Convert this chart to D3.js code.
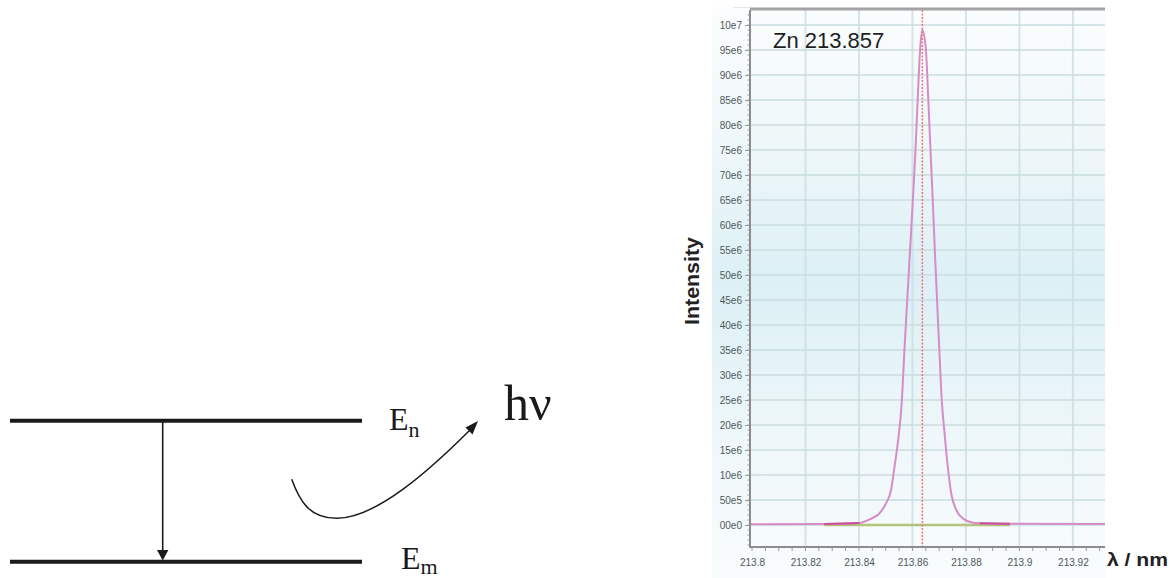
<!DOCTYPE html>
<html>
<head>
<meta charset="utf-8">
<script src="https://cdn.jsdelivr.net/npm/d3@7"></script>
<style>
  html, body { margin: 0; padding: 0; background: #ffffff; }
  svg { display: block; }
</style>
</head>
<body>
<svg id="chart" width="1175" height="578"></svg>
<script>
// ---------------- data ----------------
const wavelengths = [213.7993, 213.8000, 213.8270, 213.8345, 213.8401, 213.8439, 213.8476, 213.8501,
  213.8520, 213.8533, 213.8545, 213.85606, 213.8570, 213.85805, 213.8591, 213.86015,
  213.86113, 213.86195, 213.86285, 213.8637, 213.86503, 213.86593, 213.86675, 213.86758, 213.86836,
  213.86919, 213.87005, 213.87095, 213.8720, 213.8732, 213.8745, 213.8764, 213.8789, 213.8826,
  213.8851, 213.8964, 213.9320];
const intensities = [0.15e6, 0.15e6, 0.2e6, 0.3e6, 0.4e6, 1.1e6, 2.3e6, 4.3e6,
  7.0e6, 11.7e6, 16.3e6, 25e6, 35e6, 45e6, 55e6, 65e6,
  75e6, 85e6, 95e6, 99e6, 95e6, 85e6, 75e6, 65e6, 55e6,
  45e6, 35e6, 25e6, 18.4e6, 11.7e6, 6.3e6, 3.0e6, 1.3e6, 0.46e6,
  0.34e6, 0.24e6, 0.2e6];
const baselineFit = [[213.8270, 0], [213.8964, 0]];
const bgRegions = [[213.8270, 213.8401], [213.8851, 213.8964]];
const peakCenter = 213.8637;
const title = "Zn 213.857";
const xTickValues = [213.80, 213.82, 213.84, 213.86, 213.88, 213.90, 213.92];
const xTickLabels = ["213.8", "213.82", "213.84", "213.86", "213.88", "213.9", "213.92"];
const yTickValues = [1e8, 95e6, 90e6, 85e6, 80e6, 75e6, 70e6, 65e6, 60e6, 55e6, 50e6, 45e6, 40e6,
  35e6, 30e6, 25e6, 20e6, 15e6, 10e6, 5e6, 0];
const yTickLabels = ["10e7", "95e6", "90e6", "85e6", "80e6", "75e6", "70e6", "65e6", "60e6", "55e6",
  "50e6", "45e6", "40e6", "35e6", "30e6", "25e6", "20e6", "15e6", "10e6", "50e5", "00e0"];
const xLabel = "λ / nm";
const yLabel = "Intensity";

// ---------------- layout ----------------
const svg = d3.select("#chart");
const P = { left: 750, right: 1105, top: 10, bottom: 547 };
const x = d3.scaleLinear().domain([213.79925, 213.932]).range([P.left, P.right]);
const y = d3.scaleLinear().domain([-4.4e6, 1.03e8]).range([P.bottom, P.top]);

const defs = svg.append("defs");
const grad = defs.append("linearGradient").attr("id", "bg").attr("x1", 0).attr("y1", 0).attr("x2", 0).attr("y2", 1);
grad.append("stop").attr("offset", "0%").attr("stop-color", "#fbfdfe");
grad.append("stop").attr("offset", "25%").attr("stop-color", "#eef7f9");
grad.append("stop").attr("offset", "48%").attr("stop-color", "#dcf0f5");
grad.append("stop").attr("offset", "75%").attr("stop-color", "#eef7f9");
grad.append("stop").attr("offset", "100%").attr("stop-color", "#f9fcfd");
defs.append("clipPath").attr("id", "plotclip").append("rect")
  .attr("x", P.left).attr("y", P.top).attr("width", P.right - P.left).attr("height", P.bottom - P.top);

// panel background
svg.append("rect").attr("x", 712).attr("y", 7).attr("width", P.right - 712).attr("height", 571)
  .attr("fill", "url(#bg)");
svg.append("line").attr("x1", 733).attr("x2", P.left).attr("y1", 7.5).attr("y2", 7.5)
  .attr("stroke", "#e4e8ea").attr("stroke-width", 1);

// grid
const grid = svg.append("g");
grid.selectAll(".hg").data(yTickValues).join("line")
  .attr("x1", P.left).attr("x2", P.right)
  .attr("y1", d => y(d)).attr("y2", d => y(d))
  .attr("stroke", "#c9dcdf").attr("stroke-opacity", 0.75).attr("stroke-width", 2);
grid.selectAll(".vg").data(xTickValues.slice(1)).join("line")
  .attr("x1", d => x(d)).attr("x2", d => x(d))
  .attr("y1", P.top).attr("y2", P.bottom)
  .attr("stroke", "#c9dcdf").attr("stroke-opacity", 0.75).attr("stroke-width", 2);

// series
const plot = svg.append("g").attr("clip-path", "url(#plotclip)");
const pts = wavelengths.map((w, i) => [w, intensities[i]]);
const line = d3.line().x(d => x(d[0])).y(d => y(d[1])).curve(d3.curveMonotoneX);

plot.append("path").datum(baselineFit).attr("d", d3.line().x(d => x(d[0])).y(d => y(d[1])))
  .attr("fill", "none").attr("stroke", "#b4c27a").attr("stroke-width", 2.5);

plot.append("path").datum(pts).attr("d", line)
  .attr("fill", "none").attr("stroke", "#d68cc9").attr("stroke-width", 2);

bgRegions.forEach(r => {
  const seg = pts.filter(p => p[0] >= r[0] - 1e-9 && p[0] <= r[1] + 1e-9);
  plot.append("path").datum(seg).attr("d", line)
    .attr("fill", "none").attr("stroke", "#c8509a").attr("stroke-width", 2);
});

plot.append("line")
  .attr("x1", x(peakCenter)).attr("x2", x(peakCenter))
  .attr("y1", P.top).attr("y2", P.bottom)
  .attr("stroke", "#f07a7a").attr("stroke-width", 1.6).attr("stroke-dasharray", "2,1.5");

// axes
const yAxis = d3.axisLeft(y).tickValues(yTickValues).tickFormat((d, i) => yTickLabels[i]).tickSize(5).tickPadding(3);
const yg = svg.append("g").attr("transform", `translate(${P.left},0)`).call(yAxis);
const yMinor = d3.range(-4e6, 1.03e8, 1e6);
svg.append("g").selectAll("line").data(yMinor).join("line")
  .attr("x1", P.left - 2.5).attr("x2", P.left).attr("y1", d => y(d)).attr("y2", d => y(d))
  .attr("stroke", "#a0a0a0").attr("stroke-width", 1);

const xAxis = d3.axisBottom(x).tickValues(xTickValues).tickFormat((d, i) => xTickLabels[i]).tickSize(0).tickPadding(12);
const xg = svg.append("g").attr("transform", `translate(0,${P.bottom})`).call(xAxis);
const xMinor = d3.range(213.8, 213.932, 0.005);
svg.append("g").selectAll("line").data(xMinor).join("line")
  .attr("x1", d => x(d)).attr("x2", d => x(d)).attr("y1", P.bottom).attr("y2", P.bottom + 4)
  .attr("stroke", "#9a9a9a").attr("stroke-width", 1);

[yg, xg].forEach(g => {
  g.select(".domain").remove();
  g.selectAll(".tick line").attr("stroke", "#9a9a9a");
  g.selectAll(".tick text").attr("fill", "#4e585c")
    .style("font-family", "'Liberation Sans', Arial, sans-serif").style("font-size", "10px");
});

svg.append("line").attr("x1", P.left).attr("x2", P.left).attr("y1", P.top).attr("y2", P.bottom + 1)
  .attr("stroke", "#8d8d8d").attr("stroke-width", 2);
svg.append("line").attr("x1", P.left - 1).attr("x2", P.right).attr("y1", P.bottom).attr("y2", P.bottom)
  .attr("stroke", "#8d8d8d").attr("stroke-width", 2);
svg.append("line").attr("x1", P.left).attr("x2", P.right).attr("y1", P.top - 1).attr("y2", P.top - 1)
  .attr("stroke", "#a3a3a3").attr("stroke-width", 3);

// title and labels
svg.append("text").attr("x", 773).attr("y", 48).text(title)
  .style("font-family", "'Liberation Sans', Arial, sans-serif").style("font-size", "22px").attr("fill", "#1e1e1e");
svg.append("text").attr("transform", "translate(699,281) rotate(-90)").attr("text-anchor", "middle")
  .text(yLabel).style("font-family", "'Liberation Sans', Arial, sans-serif").style("font-size", "20px")
  .style("font-weight", "bold").attr("fill", "#222").attr("textLength", 88).attr("lengthAdjust", "spacingAndGlyphs");
svg.append("text").attr("x", 1107).attr("y", 566).text(xLabel)
  .style("font-family", "'Liberation Sans', Arial, sans-serif").style("font-size", "19px")
  .style("font-weight", "bold").attr("fill", "#222").attr("textLength", 61).attr("lengthAdjust", "spacingAndGlyphs");

// ---------------- energy-level diagram ----------------
const dg = svg.append("g");
const serif = "'Liberation Serif', 'Times New Roman', serif";
dg.append("line").attr("x1", 10).attr("x2", 362).attr("y1", 420.7).attr("y2", 420.7).attr("stroke", "#1a1a1a").attr("stroke-width", 4);
dg.append("line").attr("x1", 10).attr("x2", 362).attr("y1", 561.7).attr("y2", 561.7).attr("stroke", "#1a1a1a").attr("stroke-width", 4);
dg.append("line").attr("x1", 162.7).attr("x2", 162.7).attr("y1", 421).attr("y2", 551).attr("stroke", "#1a1a1a").attr("stroke-width", 1.6);
dg.append("path").attr("d", "M157,550 L168.4,550 L162.7,560.5 Z").attr("fill", "#1a1a1a");

dg.append("path").attr("d", "M291.7,479.3 C300,502 310,518.5 337,518.3 C375,518 426,474 471,429")
  .attr("fill", "none").attr("stroke", "#1a1a1a").attr("stroke-width", 1.5);
dg.append("path").attr("d", "M478,421 L465.5,427.5 L472.5,434.5 Z").attr("fill", "#1a1a1a");

const en = dg.append("text").attr("x", 389).attr("y", 430).style("font-family", serif).style("font-size", "32px").attr("fill", "#1a1a1a");
en.append("tspan").text("E");
en.append("tspan").attr("dy", 7).style("font-size", "22px").text("n");
const em = dg.append("text").attr("x", 401).attr("y", 569).style("font-family", serif).style("font-size", "32px").attr("fill", "#1a1a1a");
em.append("tspan").text("E");
em.append("tspan").attr("dy", 5).style("font-size", "22px").text("m");
dg.append("text").attr("x", 504).attr("y", 420).text("hν").style("font-family", serif).style("font-size", "50px").attr("fill", "#1a1a1a");
</script>
</body>
</html>
